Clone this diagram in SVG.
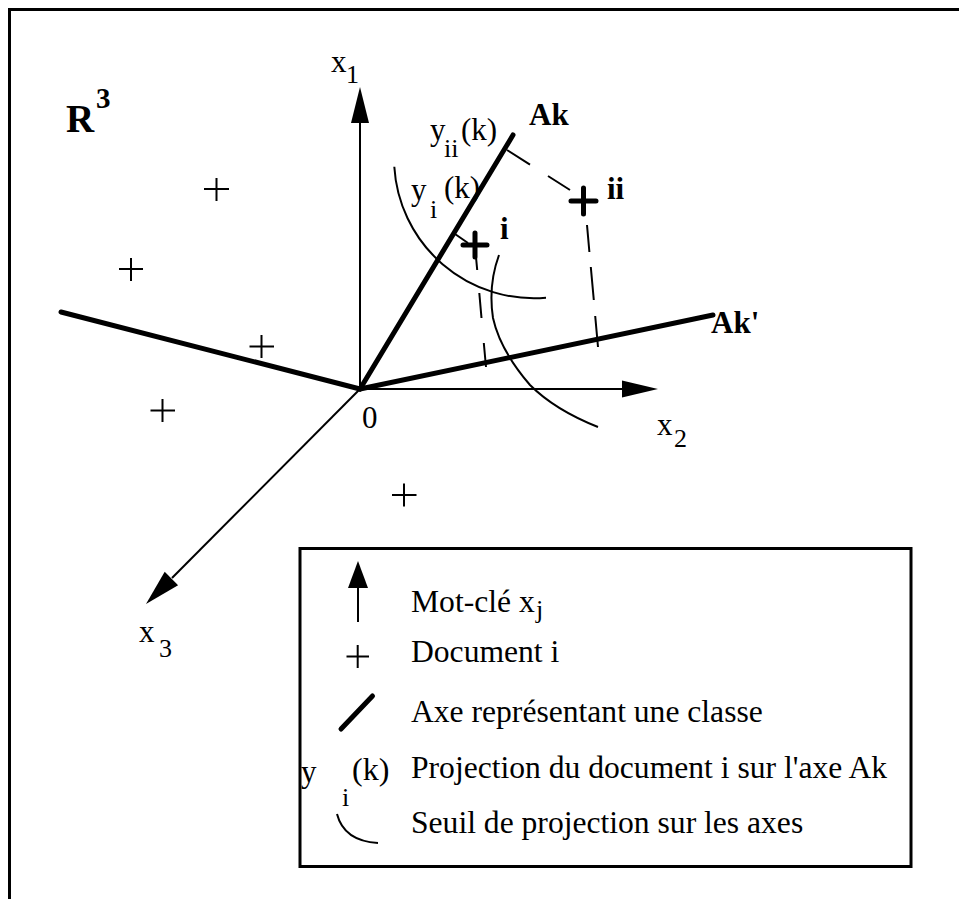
<svg xmlns="http://www.w3.org/2000/svg" width="959" height="899" viewBox="0 0 959 899">
<style>
.t{font-family:"Liberation Serif","Times New Roman",serif;fill:#000}
.lab{font-size:31px}
.sub{font-size:26px}
.b{font-weight:bold;font-size:31px}
.thin{stroke:#000;stroke-width:2;fill:none}
.thick{stroke:#000;stroke-width:5;fill:none;stroke-linecap:round}
.dash{stroke:#000;stroke-width:2;fill:none}
.leg{font-size:31.6px}
</style>
<rect width="959" height="899" fill="#fff"/>
<path d="M9.5,899 V9.5 H959" fill="none" stroke="#000" stroke-width="3"/>
<text class="t" x="66" y="132" style="font-size:39px;font-weight:bold">R</text>
<text class="t" x="96" y="108" style="font-size:29px;font-weight:bold">3</text>
<g id="connectors">
<line class="thin" x1="360" y1="389" x2="360" y2="122"/>
<polygon points="360,87 351,123 369,123"/>
<line class="thin" x1="360" y1="389" x2="623" y2="389"/>
<polygon points="658,389 622,380.5 622,397.5"/>
<line class="thin" x1="360" y1="389" x2="172" y2="578"/>
<polygon points="146,604 164.7,571.8 178.1,585.2"/>
<line class="thick" x1="360" y1="389" x2="513" y2="135"/>
<line class="thick" x1="360" y1="389" x2="713" y2="315"/>
<line class="thick" x1="61" y1="312" x2="360" y2="389"/>
<path class="dash" d="M455,234 L468,243"/>
<path class="dash" d="M507,150 L530,164.6 M548,176 L570,190"/>
<path class="dash" d="M476,257 L477.2,270 M479.3,293 L481.5,318 M483.8,343 L486,367"/>
<path class="dash" d="M587,225 L589.4,252 M590.8,267 L593.8,300 M595.2,316 L598,347"/>
<path class="thin" d="M394.3,166.7 A140,140 0 0 0 546,297.7"/>
<path class="thin" d="M499,255 Q488,285 493,318 Q500,350 530,385 Q555,410 598,427"/>
</g>
<g id="docs">
<path class="thin" d="M204,189 H229 M216.5,178 V201"/>
<path class="thin" d="M119,269 H143 M131,258 V281"/>
<path class="thin" d="M249.5,346.5 H274 M261.5,335 V358"/>
<path class="thin" d="M150.5,410.5 H175 M162.5,399 V422"/>
<path class="thin" d="M392,495 H416.5 M404,483.5 V506.5"/>
</g>
<g id="doc-i">
<path class="thick" d="M463,245 H487 M475,233 V257" stroke-linecap="butt"/>
<text class="t b" x="500" y="239">i</text>
</g>
<g id="doc-ii">
<path class="thick" d="M571,201 H596 M583.5,188 V214" stroke-linecap="butt"/>
<text class="t b" x="607" y="199">ii</text>
</g>
<g id="axis-labels">
<text class="t lab" x="331" y="72">x</text>
<text class="t sub" x="346" y="83">1</text>
<text class="t lab" x="657" y="435">x</text>
<text class="t sub" x="674" y="447">2</text>
<text class="t lab" x="139" y="642">x</text>
<text class="t sub" x="159" y="657">3</text>
<text class="t lab" x="362" y="428">0</text>
<text class="t b" x="529" y="125">Ak</text>
<text class="t b" x="711" y="333">Ak'</text>
<text class="t lab" x="430" y="140">y</text>
<text class="t sub" x="444" y="157">ii</text>
<text class="t lab" x="461" y="140">(k)</text>
<text class="t lab" x="411" y="200">y</text>
<text class="t sub" x="430" y="218">i</text>
<text class="t lab" x="444" y="198">(k)</text>
</g>
<g id="legend">
<rect x="300" y="548.5" width="611" height="318" fill="none" stroke="#000" stroke-width="3"/>
<polygon points="358,561 348,588 368,588"/>
<line class="thin" x1="358" y1="587" x2="358" y2="622"/>
<text class="t leg" x="411" y="612">Mot-clé x</text>
<text class="t sub" x="536" y="618">j</text>
<path class="thin" d="M346.5,656.5 H369 M357.7,645 V668"/>
<text class="t leg" x="411" y="662">Document i</text>
<line class="thick" x1="341" y1="729" x2="372.5" y2="696"/>
<text class="t leg" x="411" y="722">Axe représentant une classe</text>
<text class="t lab" x="301" y="782">y</text>
<text class="t sub" x="342" y="806">i</text>
<text class="t" x="352" y="780" style="font-size:32px">(k)</text>
<text class="t leg" x="411" y="778">Projection du document i sur l'axe Ak</text>
<path class="thin" d="M337,814 Q344,841 378,843"/>
<text class="t leg" x="411" y="833">Seuil de projection sur les axes</text>
</g>
</svg>
